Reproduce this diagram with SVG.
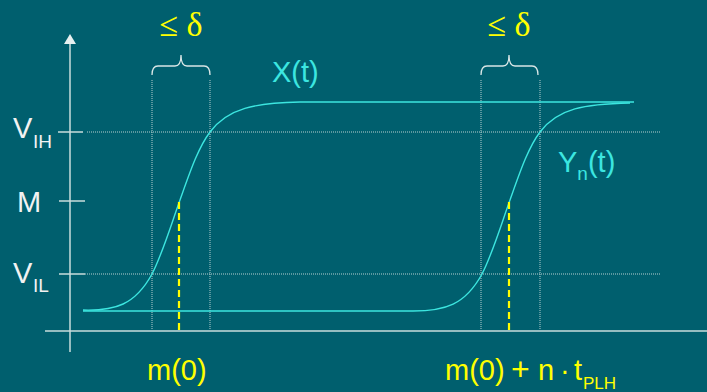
<svg xmlns="http://www.w3.org/2000/svg" width="707" height="392" viewBox="0 0 707 392">
<style>
.axis{stroke:#c9dcdc;stroke-width:1.5;fill:none}
.dot{stroke:#b8d0d0;stroke-width:1;stroke-dasharray:1 1;fill:none}
.curve{stroke:#3ce6e0;stroke-width:1.4;fill:none}
.dash{stroke:#ffff00;stroke-width:2.2;stroke-dasharray:7 4;fill:none}
.brace{stroke:#d8e6e6;stroke-width:1.3;fill:none}
.lbl{font-family:"Liberation Sans",Arial,sans-serif;fill:#f2f2f2}
.yel{font-family:"Liberation Sans",Arial,sans-serif;fill:#ffff00}
.sym{font-family:"Liberation Serif","Times New Roman",serif;fill:#ffff00}
.cy{font-family:"Liberation Sans",Arial,sans-serif;fill:#3ce6e0}
</style>
<rect width="707" height="392" fill="#005f6e"/>
<g id="axes">
<line class="axis" x1="70" y1="42" x2="70" y2="352"/>
<polygon points="70,34 64,44 76,44" fill="#e6f0f0"/>
<line class="axis" x1="45" y1="331" x2="707" y2="331"/>
<line class="axis" x1="58" y1="132" x2="83" y2="132"/>
<line class="axis" x1="59" y1="201" x2="85" y2="201"/>
<line class="axis" x1="59" y1="274" x2="85" y2="274"/>
</g>
<g id="grid">
<line class="dot" x1="87" y1="132" x2="660" y2="132"/>
<line class="dot" x1="85" y1="274" x2="660" y2="274"/>
<line class="dot" x1="152" y1="80" x2="152" y2="330"/>
<line class="dot" x1="210" y1="80" x2="210" y2="330"/>
<line class="dot" x1="481" y1="80" x2="481" y2="330"/>
<line class="dot" x1="540" y1="80" x2="540" y2="330"/>
</g>
<g id="braces">
<path class="brace" d="M152,75 Q152,66 158,66 L175,66 Q181,66 181,55 Q181,66 187,66 L204,66 Q210,66 210,75"/>
<path class="brace" d="M481,75 Q481,66 487,66 L503,66 Q509,66 509,55 Q509,66 515,66 L532,66 Q538,66 538,75"/>
</g>
<g id="connectors">
<path id="x-curve" class="curve" d="M83,310 C115,311 135,305 152,274 C162,255 172,222 180,200 C190,172 198,148 210,132 C228,108 255,103 300,102"/>
<line class="curve" x1="300" y1="102" x2="634" y2="102" stroke-width="2"/>
<path id="y-curve" class="curve" d="M83,311 L413,311 C445,311 465,305 482,274 C492,255 502,222 510,200 C520,172 528,148 540,132 C558,108 585,104 630,103"/>
<line class="dash" x1="179" y1="202" x2="179" y2="331"/>
<line class="dash" x1="509" y1="202" x2="509" y2="331"/>
</g>
<g id="labels">
<text class="sym" x="181" y="36" font-size="34" text-anchor="middle">≤ δ</text>
<text class="sym" x="509" y="36" font-size="34" text-anchor="middle">≤ δ</text>
<text class="cy" x="272" y="82" font-size="29">X(t)</text>
<text class="cy" x="558" y="172" font-size="29">Y<tspan font-size="19" dy="8">n</tspan><tspan dy="-8">(t)</tspan></text>
<text class="lbl" x="13" y="138" font-size="29">V<tspan font-size="19" x="33" dy="10">IH</tspan></text>
<text class="lbl" x="17" y="212" font-size="29">M</text>
<text class="lbl" x="13" y="283" font-size="29">V<tspan font-size="19" x="33" dy="9">IL</tspan></text>
<text class="yel" x="147" y="380" font-size="29">m(0)</text>
<text class="yel" x="445" y="380" font-size="29">m(0)<tspan x="511" font-size="32">+</tspan><tspan x="538">n</tspan><tspan x="560">·</tspan><tspan x="574">t</tspan><tspan x="583" dy="9" font-size="17">PLH</tspan></text>
</g>
</svg>
